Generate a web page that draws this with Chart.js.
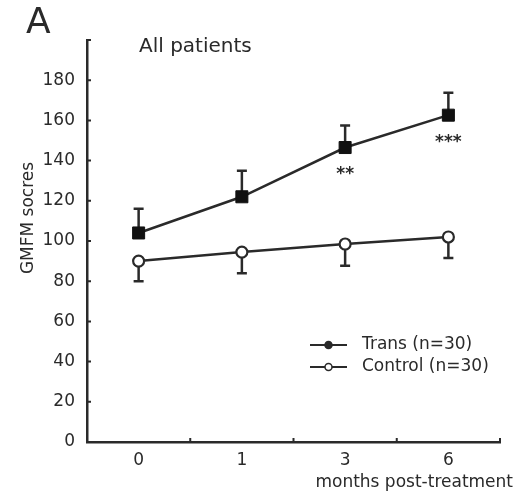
<!DOCTYPE html>
<html>
<head>
<meta charset="utf-8">
<script src="https://cdn.jsdelivr.net/npm/chart.js@4"></script>
<style>
  html, body { margin: 0; padding: 0; background: #fff; }
  #wrap { width: 515px; height: 496px; }
</style>
</head>
<body>
<div id="wrap"><canvas id="myChart" width="515" height="496"></canvas></div>
<script>
// data
const months = ['0', '1', '3', '6'];
const transMean = [104, 122, 146.5, 162.6];
const transUpper = [116, 135, 157.5, 173.7];
const controlMean = [90, 94.5, 98.5, 102];
const controlLower = [80, 84, 87.7, 91.5];
const transStars = ['', '', '**', '***'];
const yTicks = [0, 20, 40, 60, 80, 100, 120, 140, 160, 180];

const ink = '#2a2a2a';
const font = 'DejaVu Sans';

// error bars, stars, inward tick marks, legend and labels
const annot = {
    id: 'annot',
    beforeDatasetsDraw(chart) {
        const ctx = chart.ctx;
        const x = chart.scales.x, y = chart.scales.y;
        ctx.save();
        ctx.strokeStyle = ink;
        ctx.lineWidth = 2.5;
        const bar = (i, from, to) => {
            const px = x.getPixelForValue(i);
            const y0 = y.getPixelForValue(from), y1 = y.getPixelForValue(to);
            ctx.beginPath();
            ctx.moveTo(px, y0); ctx.lineTo(px, y1);
            ctx.moveTo(px - 5, y1); ctx.lineTo(px + 5, y1);
            ctx.stroke();
        };
        months.forEach((m, i) => {
            bar(i, transMean[i], transUpper[i]);
            bar(i, controlMean[i], controlLower[i]);
        });
        ctx.restore();
    },
    afterDraw(chart) {
        const ctx = chart.ctx;
        const x = chart.scales.x, y = chart.scales.y;
        const area = chart.chartArea;
        ctx.save();
        ctx.strokeStyle = ink;
        ctx.fillStyle = ink;
        ctx.lineWidth = 2;

        // y ticks pointing into the plot
        ctx.beginPath();
        yTicks.concat([200]).forEach(v => {
            const py = y.getPixelForValue(v);
            ctx.moveTo(area.left, py); ctx.lineTo(area.left + 4, py);
        });
        // x ticks between the categories
        for (let i = 0; i < months.length; i++) {
            const px = x.getPixelForValue(i) + (x.getPixelForValue(1) - x.getPixelForValue(0)) / 2;
            ctx.moveTo(px, area.bottom); ctx.lineTo(px, area.bottom - 4);
        }
        ctx.stroke();

        // significance stars under the trans points
        ctx.font = 'bold 17px "' + font + '"';
        ctx.textAlign = 'center';
        ctx.textBaseline = 'middle';
        transStars.forEach((s, i) => {
            if (!s) return;
            const px = x.getPixelForValue(i);
            const py = y.getPixelForValue(transMean[i]);
            ctx.fillText(s, px, py + 27);
        });

        // panel letter and subtitle
        ctx.textAlign = 'left';
        ctx.font = '36px "' + font + '"';
        ctx.fillText('A', 26, 24);
        ctx.font = '20px "' + font + '"';
        ctx.fillText('All patients', 139, 47);

        // axis titles
        ctx.font = '17px "' + font + '"';
        ctx.textAlign = 'right';
        ctx.textBaseline = 'alphabetic';
        ctx.fillText('months post-treatment', 513, 487);
        ctx.save();
        ctx.translate(33, 218);
        ctx.rotate(-Math.PI / 2);
        ctx.textAlign = 'center';
        ctx.fillText('GMFM socres', 0, 0);
        ctx.restore();

        // legend
        ctx.textAlign = 'left';
        ctx.textBaseline = 'middle';
        chart.data.datasets.forEach((ds, i) => {
            const ly = 345 + i * 22;
            ctx.lineWidth = 2;
            ctx.beginPath();
            ctx.moveTo(310, ly); ctx.lineTo(347, ly);
            ctx.stroke();
            ctx.beginPath();
            ctx.arc(328.5, ly, 3.5, 0, Math.PI * 2);
            ctx.fillStyle = i === 0 ? ink : '#fff';
            ctx.fill();
            ctx.lineWidth = 1.5;
            ctx.stroke();
            ctx.fillStyle = ink;
            ctx.fillText(ds.label, 362, ly);
        });
        ctx.restore();
    }
};

let chart = new Chart(document.getElementById('myChart').getContext('2d'), {
    type: 'line',
    data: {
        labels: months,
        datasets: [{
            label: 'Trans (n=30)',
            data: transMean,
            borderColor: ink,
            borderWidth: 2.5,
            pointStyle: 'rect',
            pointRadius: 8.5,
            pointBackgroundColor: '#111',
            pointBorderColor: '#111',
            pointBorderWidth: 1
        }, {
            label: 'Control (n=30)',
            data: controlMean,
            borderColor: ink,
            borderWidth: 2.5,
            pointStyle: 'circle',
            pointRadius: 5.5,
            pointBackgroundColor: '#fff',
            pointBorderColor: ink,
            pointBorderWidth: 2.2
        }]
    },
    options: {
        responsive: false,
        animation: false,
        layout: { padding: { left: 0, top: 40, right: 15, bottom: 24 } },
        plugins: {
            legend: { display: false },
            tooltip: { enabled: false }
        },
        scales: {
            x: {
                offset: true,
                grid: { display: false, drawTicks: false },
                border: { display: true, color: ink, width: 2.5 },
                ticks: { color: ink, padding: 8, font: { family: font, size: 17 } },
                afterFit(scale) { scale.height = 30; }
            },
            y: {
                min: 0,
                max: 200,
                grid: { display: false, drawTicks: false },
                border: { display: true, color: ink, width: 2.5 },
                ticks: {
                    stepSize: 20,
                    color: ink,
                    padding: 12,
                    font: { family: font, size: 17 },
                    callback: v => yTicks.includes(v) ? String(v) : ''
                },
                afterFit(scale) { scale.width = 87; }
            }
        }
    },
    plugins: [annot]
});
</script>
</body>
</html>
